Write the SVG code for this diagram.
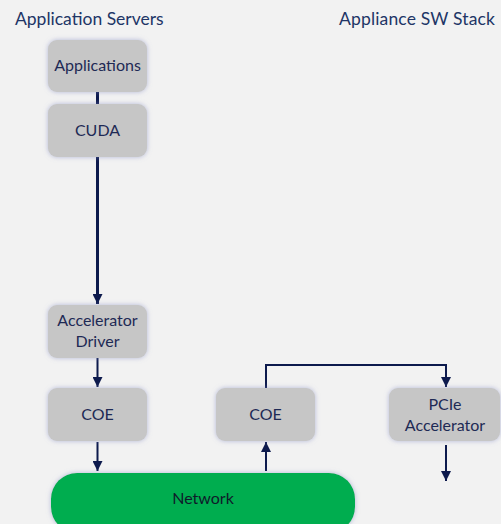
<svg xmlns="http://www.w3.org/2000/svg" width="501" height="524" viewBox="0 0 501 524">
  <defs>
    <filter id="glow" x="-20%" y="-30%" width="140%" height="160%">
      <feDropShadow dx="0" dy="0" stdDeviation="2.5" flood-color="#7d86c0" flood-opacity="0.55"/>
    </filter>
    <marker id="arr" viewBox="0 0 10 10" refX="10" refY="5" markerWidth="10" markerHeight="10" markerUnits="userSpaceOnUse" orient="auto">
      <path d="M0,0 L10,5 L0,10 Z" fill="#0d1a4d"/>
    </marker>
  </defs>
  <style>
    .box { fill: #c6c6c6; filter: url(#glow); }
    .lbl { font-family: Lato, "Open Sans", sans-serif; font-size: 16px; fill: #1e2a55; text-anchor: middle; }
    .title { font-family: Lato, "Open Sans", sans-serif; font-size: 17.5px; fill: #213566; }
    .wire { fill: none; stroke: #0d1a4d; stroke-width: 2; }
    .thick { stroke-width: 3; }
  </style>
  <rect width="501" height="524" fill="#f2f2f2"/>

  <text class="title" x="15" y="25">Application Servers</text>
  <text class="title" x="339" y="25" textLength="156">Appliance SW Stack</text>

  <g id="connectors">
    <line class="wire thick" x1="97.5" y1="92" x2="97.5" y2="104"/>
    <line class="wire thick" x1="97.5" y1="157" x2="97.5" y2="304" marker-end="url(#arr)"/>
    <line class="wire" x1="97.5" y1="358" x2="97.5" y2="387" marker-end="url(#arr)"/>
    <line class="wire" x1="97.5" y1="442" x2="97.5" y2="471" marker-end="url(#arr)"/>
    <line class="wire" x1="266" y1="471" x2="266" y2="442" marker-end="url(#arr)"/>
    <path class="wire" d="M266,388 V365 H446 V387" marker-end="url(#arr)"/>
    <line class="wire" x1="446" y1="445" x2="446" y2="481" marker-end="url(#arr)"/>
  </g>

  <g id="applications">
    <rect class="box" x="48" y="40" width="99" height="52" rx="9"/>
    <text class="lbl" x="97.5" y="71">Applications</text>
  </g>
  <g id="cuda">
    <rect class="box" x="48" y="104" width="99" height="53" rx="9"/>
    <text class="lbl" x="97.5" y="136">CUDA</text>
  </g>
  <g id="accelerator-driver">
    <rect class="box" x="48" y="305" width="99" height="53" rx="9"/>
    <text class="lbl" x="97.5" y="326">Accelerator</text>
    <text class="lbl" x="97.5" y="347">Driver</text>
  </g>
  <g id="coe-server">
    <rect class="box" x="48" y="388" width="99" height="53" rx="9"/>
    <text class="lbl" x="97.5" y="420">COE</text>
  </g>
  <g id="coe-appliance">
    <rect class="box" x="216" y="388" width="99" height="53" rx="9"/>
    <text class="lbl" x="265.5" y="420">COE</text>
  </g>
  <g id="pcie-accelerator">
    <rect class="box" x="389" y="388" width="111" height="53" rx="9"/>
    <text class="lbl" x="445" y="410">PCIe</text>
    <text class="lbl" x="445" y="431">Accelerator</text>
  </g>
  <g id="network">
    <rect x="51" y="473" width="304" height="60" rx="26" fill="#00ad4f" filter="url(#glow)"/>
    <text class="lbl" x="203" y="504" style="fill:#0f1a2a">Network</text>
  </g>
</svg>
